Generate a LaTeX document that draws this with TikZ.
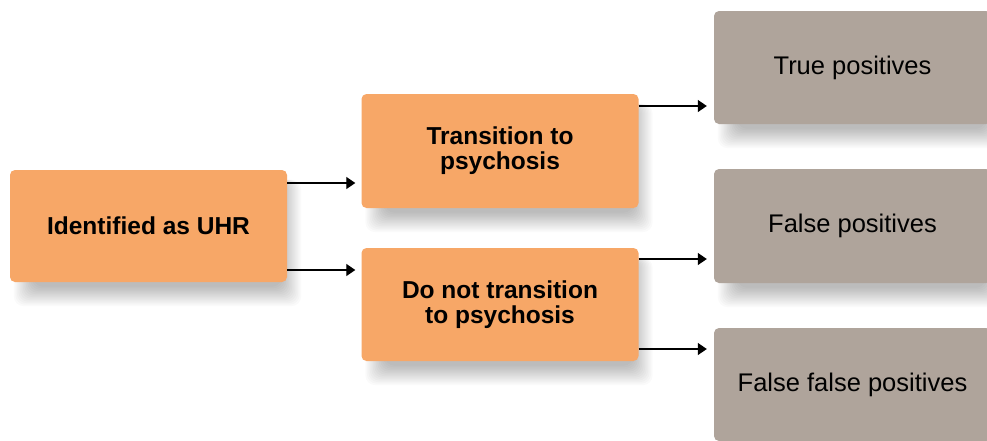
\documentclass[tikz,border=0pt]{standalone}
\usepackage{fontspec}
\setmainfont{Liberation Sans}
\usetikzlibrary{arrows.meta,backgrounds}
\definecolor{uhrorange}{HTML}{F7A767}
\definecolor{outgray}{HTML}{AFA49B}
\tikzset{
  box/.style={rounded corners=5pt, inner sep=0pt, align=center},
  groupbox/.style={box, fill=uhrorange, minimum width=277pt, minimum height=113pt,
    font=\bfseries\fontsize{24.5}{25}\selectfont},
  resultbox/.style={box, fill=outgray, minimum width=277pt, minimum height=113pt,
    font=\fontsize{25.5}{26}\selectfont},
  shade layer/.style={fill=black, fill opacity=0.018, rounded corners=10pt},
  arr/.style={line width=1.3pt, -{Triangle[length=9pt, width=12pt]}}
}
\begin{document}
\begin{tikzpicture}[x=1pt, y=1pt]
\useasboundingbox (0,0) rectangle (987,-440);
\clip (0,0) rectangle (987,-440);
% left column
\node[groupbox, minimum height=112pt] (uhr) at (148.5,-226) {Identified as UHR};
% middle column
\node[groupbox, minimum height=114pt] (trans) at (500,-151) {Transition to\\psychosis};
\node[groupbox] (notr) at (500,-304.5) {Do not transition\\to psychosis};
% right column
\node[resultbox] (tp) at (852.5,-67.5) {\raisebox{3pt}{True positives}};
\node[resultbox, minimum height=114pt] (fp) at (852.5,-226) {\raisebox{3pt}{False positives}};
\node[resultbox] (ffp) at (852.5,-384.5) {\raisebox{3pt}{False false positives}};
% soft shadows
\begin{scope}[on background layer]
\fill[white] (0,0) rectangle (987,-440);
\foreach \n in {uhr,trans,notr,tp,fp,ffp}
  \foreach \i in {0,...,13}
    \fill[shade layer] ([xshift=4+1.5*\i, yshift=-24+1.5*\i]\n.south west)
      rectangle ([xshift=14-1.5*\i, yshift=-10]\n.north east);
\end{scope}
% connectors
\draw[arr, shorten >=6pt] ([yshift=43pt]uhr.east) coordinate (u1) -- (u1 -| trans.west);
\draw[arr, shorten >=6pt] ([yshift=-44pt]uhr.east) coordinate (u2) -- (u2 -| notr.west);
\draw[arr, shorten >=7pt] ([yshift=45pt]trans.east) coordinate (t1) -- (t1 -| tp.west);
\draw[arr, shorten >=7pt] ([yshift=45.5pt]notr.east) coordinate (n1) -- (n1 -| fp.west);
\draw[arr, shorten >=7pt] ([yshift=-44.5pt]notr.east) coordinate (n2) -- (n2 -| ffp.west);
\end{tikzpicture}
\end{document}
